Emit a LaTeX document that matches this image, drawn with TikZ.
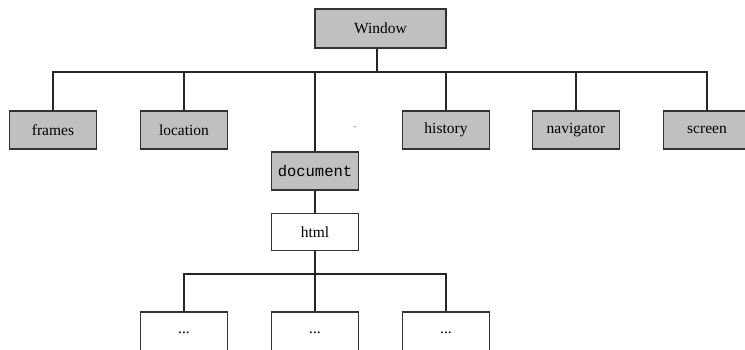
\documentclass[tikz,border=0pt]{standalone}
\usepackage{fontspec}
\setmainfont{Liberation Serif}
\setmonofont{Liberation Mono}
\usepackage{tikz}
\usetikzlibrary{positioning}
\definecolor{boxgrey}{HTML}{C0C0C0}
\definecolor{edgegrey}{HTML}{333333}
\tikzset{
  objbox/.style={draw=edgegrey, line width=1.3pt, fill=boxgrey, minimum width=87pt, minimum height=38pt, inner sep=0pt, font=\fontsize{15.5}{18}\selectfont},
  plainbox/.style={objbox, fill=white},
  link/.style={line width=1.3pt, draw=black!85}
}

\begin{document}
\begin{tikzpicture}[x=1pt, y=-1pt]
  \useasboundingbox (0,0) rectangle (745,349);
  \clip (0,0) rectangle (745,349);
  % top of the tree
  \node[objbox, minimum width=131pt, minimum height=39pt] (win) at (380.5,28.5) {Window};
  \coordinate (bar) at (377,72);
  % first level
  \node[objbox] (frames) at (53,130) {frames};
  \node[objbox] (location) at (184,130) {location};
  \node[objbox] (history) at (446,130) {history};
  \node[objbox] (navigator) at (576,130) {navigator};
  \node[objbox] (screen) at (707,130) {screen};
  \node[objbox, font=\fontsize{15.5}{18}\ttfamily] (docnode) at (315,171) {document};
  \node[inner sep=0pt, font=\small] (stray) at (355,127) {.};
  % below document
  \node[plainbox, minimum height=37pt, below=22pt of docnode] (html) {html};
  \coordinate (subbar) at (315,274);
  \node[plainbox, minimum height=41pt] (sub1) at (184,332.5) {...};
  \node[plainbox, minimum height=41pt] (sub2) at (315,332.5) {...};
  \node[plainbox, minimum height=41pt] (sub3) at (446,332.5) {...};
  % connectors
  \draw[link] ([xshift=-3.5pt]win.south) -- (bar);
  \foreach \n in {frames,location,docnode,history,navigator,screen}
    \draw[link] (bar) -| (\n);
  \draw[link] (docnode) -- (html);
  \draw[link] (html) -- (subbar);
  \foreach \n in {sub1,sub2,sub3}
    \draw[link] (subbar) -| (\n);
\end{tikzpicture}
\end{document}
